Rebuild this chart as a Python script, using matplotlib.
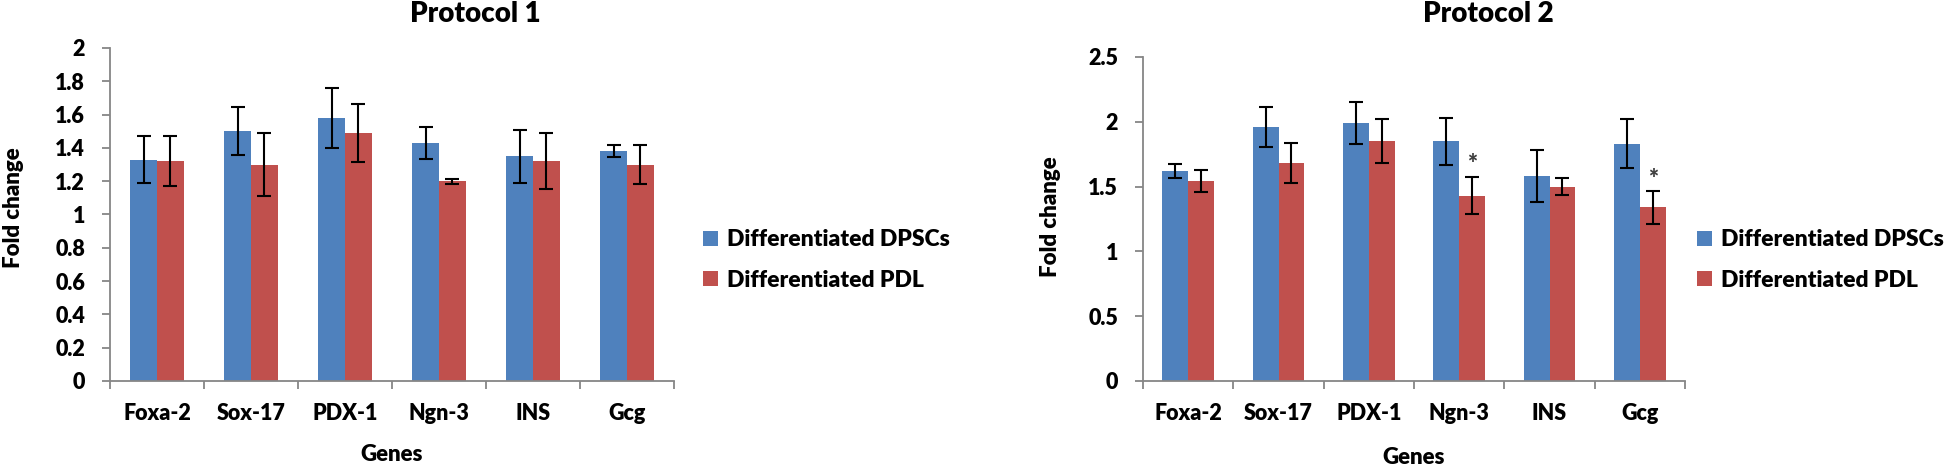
import numpy as np
import matplotlib
matplotlib.use("Agg")
import matplotlib.pyplot as plt

# Data
GENES = ["Foxa-2", "Sox-17", "PDX-1", "Ngn-3", "INS", "Gcg"]
SERIES = ["Differentiated DPSCs", "Differentiated PDL"]

p1_dpsc = [1.33, 1.50, 1.58, 1.43, 1.35, 1.38]
p1_dpsc_err = [0.14, 0.145, 0.18, 0.095, 0.16, 0.035]
p1_pdl = [1.32, 1.30, 1.49, 1.20, 1.32, 1.30]
p1_pdl_err = [0.15, 0.19, 0.175, 0.015, 0.17, 0.115]

p2_dpsc = [1.62, 1.96, 1.99, 1.85, 1.58, 1.83]
p2_dpsc_err = [0.055, 0.155, 0.16, 0.18, 0.20, 0.19]
p2_pdl = [1.54, 1.68, 1.85, 1.43, 1.50, 1.34]
p2_pdl_err = [0.085, 0.155, 0.17, 0.145, 0.065, 0.125]
p2_stars = [False, False, False, True, False, True]

BLUE = "#4F81BD"
RED = "#C0504D"
AXIS_GREY = "#868686"
WEIGHT = "heavy"
plt.rcParams["font.family"] = ["Lato", "DejaVu Sans"]
plt.rcParams["font.weight"] = WEIGHT

W = 1 / 3.5


def draw_panel(ax, dpsc, dpsc_err, pdl, pdl_err, ymax, ystep, stars=None):
    x = np.arange(len(GENES))
    ekw = dict(ecolor="black", elinewidth=1.5, capsize=4.7, capthick=1.5)
    b1 = ax.bar(x - W / 2, dpsc, W, yerr=dpsc_err, color=BLUE, label=SERIES[0],
                error_kw=ekw, zorder=2)
    b2 = ax.bar(x + W / 2, pdl, W, yerr=pdl_err, color=RED, label=SERIES[1],
                error_kw=ekw, zorder=2)
    if stars:
        for i, s in enumerate(stars):
            if s:
                ax.annotate("*", (x[i] + W / 2, pdl[i] + pdl_err[i]),
                            xytext=(0, 1), textcoords="offset points",
                            ha="center", va="bottom", fontsize=17,
                            fontweight=WEIGHT, color="#404040")
    ticks = np.arange(0, ymax + 1e-9, ystep)
    ax.set_xlim(-0.5, len(GENES) - 0.5)
    ax.set_ylim(0, ymax)
    ax.set_yticks(ticks)
    ax.set_yticklabels([f"{v:g}" for v in ticks], fontweight=WEIGHT, fontsize=15.5)
    ax.set_xticks(x)
    ax.set_xticklabels(GENES, fontweight=WEIGHT, fontsize=15.5)
    ax.set_xticks(np.arange(-0.5, len(GENES)), minor=True)
    ax.tick_params(axis="x", which="major", length=0, pad=16)
    ax.tick_params(axis="x", which="minor", length=6, color=AXIS_GREY, width=1.3)
    ax.tick_params(axis="y", length=6, color=AXIS_GREY, width=1.3, pad=12)
    for side in ["top", "right"]:
        ax.spines[side].set_visible(False)
    for side in ["left", "bottom"]:
        ax.spines[side].set_color(AXIS_GREY)
        ax.spines[side].set_linewidth(1.3)
    ax.set_xlabel("Genes", fontsize=16, fontweight=WEIGHT, va="center")
    ax.set_ylabel("Fold change", fontsize=16, fontweight=WEIGHT, va="center")
    return b1, b2


fig = plt.figure(figsize=(19.44, 4.67), dpi=100)
ax1 = fig.add_axes([0.0566, 0.1842, 0.2901, 0.7131])
ax2 = fig.add_axes([0.5880, 0.1842, 0.2788, 0.6938])

h = draw_panel(ax1, p1_dpsc, p1_dpsc_err, p1_pdl, p1_pdl_err, 2, 0.2)
draw_panel(ax2, p2_dpsc, p2_dpsc_err, p2_pdl, p2_pdl_err, 2.5, 0.5, p2_stars)
ax1.yaxis.set_label_coords(-0.172, 0.52)
ax2.yaxis.set_label_coords(-0.170, 0.506)
ax1.xaxis.set_label_coords(0.5, -0.222)
ax2.xaxis.set_label_coords(0.5, -0.235)

# titles are centred over the whole chart area (plot + legend), as in Excel
fig.text(0.2443, 0.970, "Protocol 1", ha="center", va="center",
         fontsize=20, fontweight=WEIGHT)
fig.text(0.7654, 0.970, "Protocol 2", ha="center", va="center",
         fontsize=20, fontweight=WEIGHT)

for xpos in [0.3616, 0.8730]:
    fig.legend(handles=h, labels=SERIES, loc="center left",
               bbox_to_anchor=(xpos, 0.443), frameon=False,
               prop={"size": 16.5, "weight": WEIGHT},
               borderpad=0, borderaxespad=0,
               handlelength=0.65, handleheight=0.65, handletextpad=0.4,
               labelspacing=0.85)

fig.savefig("out.png", dpi=100)
